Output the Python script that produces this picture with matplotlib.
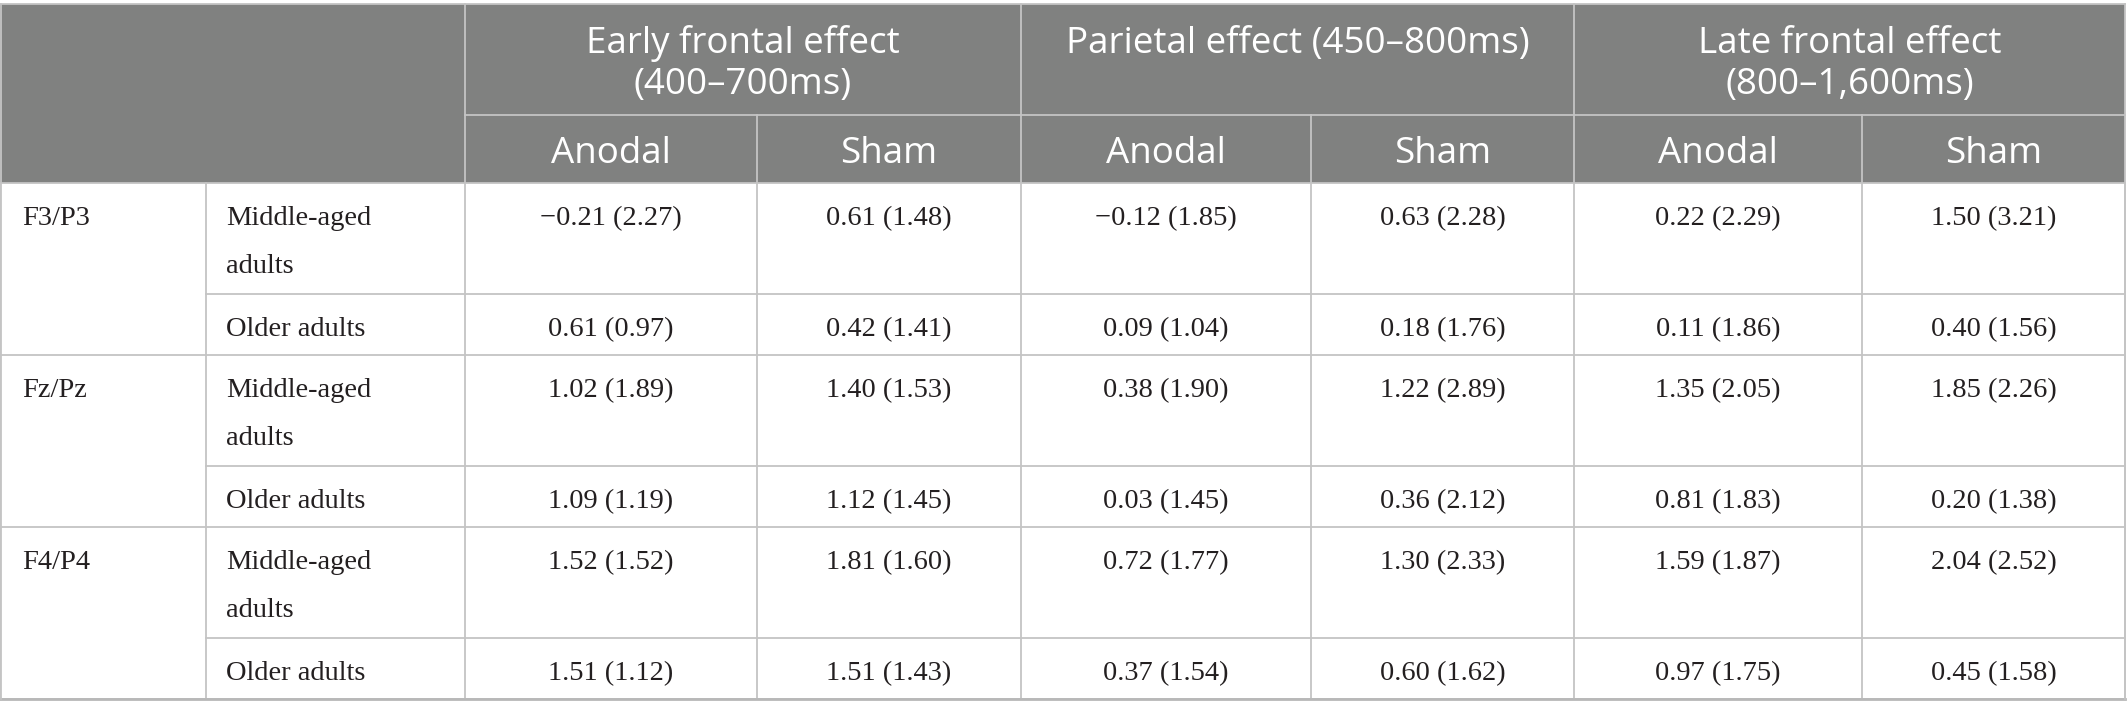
import matplotlib.pyplot as plt
from matplotlib.patches import Rectangle

# ---- table content ----
regions = ["F3/P3", "Fz/Pz", "F4/P4"]
age_groups = ["Middle-aged\nadults", "Older adults"]
effects = ["Early frontal effect\n(400\u2013700ms)",
           "Parietal effect (450\u2013800ms)",
           "Late frontal effect\n(800\u20131,600ms)"]
conditions = ["Anodal", "Sham"]

# mean values, one row per region x age group, columns = effect x condition
means = [
    [-0.21, 0.61, -0.12, 0.63, 0.22, 1.50],
    [0.61, 0.42, 0.09, 0.18, 0.11, 0.40],
    [1.02, 1.40, 0.38, 1.22, 1.35, 1.85],
    [1.09, 1.12, 0.03, 0.36, 0.81, 0.20],
    [1.52, 1.81, 0.72, 1.30, 1.59, 2.04],
    [1.51, 1.51, 0.37, 0.60, 0.97, 0.45],
]
sds = [
    [2.27, 1.48, 1.85, 2.28, 2.29, 3.21],
    [0.97, 1.41, 1.04, 1.76, 1.86, 1.56],
    [1.89, 1.53, 1.90, 2.89, 2.05, 2.26],
    [1.19, 1.45, 1.45, 2.12, 1.83, 1.38],
    [1.52, 1.60, 1.77, 2.33, 1.87, 2.52],
    [1.12, 1.43, 1.54, 1.62, 1.75, 1.58],
]

# ---- layout (pixel coordinates) ----
W, H = 2127, 715
col_x = [0, 206, 465, 757, 1021, 1311, 1574, 1862, 2125]
top, hdr_mid, hdr_bot = 4, 115, 183
row_h = [111, 61]
header_bg = "#808180"
line_c = "#c4c4c4"
txt_c = "#231f20"
serif = "Liberation Serif"
sans = "Open Sans"
hdr_fs = 26.5
body_fs = 20.5

fig = plt.figure(figsize=(W / 100, H / 100), dpi=100)
ax = fig.add_axes([0, 0, 1, 1])
ax.set_xlim(0, W)
ax.set_ylim(H, 0)
ax.axis("off")

# header background
ax.add_patch(Rectangle((0, top), col_x[-1], hdr_bot - top, facecolor=header_bg,
                       edgecolor="none", zorder=0))

lw = 1.3
# header lines
ax.plot([col_x[2], col_x[-1]], [hdr_mid, hdr_mid], color=line_c, lw=lw)
for i in (2, 4, 6):
    ax.plot([col_x[i], col_x[i]], [top, hdr_bot], color=line_c, lw=lw)
for i in (3, 5, 7):
    ax.plot([col_x[i], col_x[i]], [hdr_mid, hdr_bot], color=line_c, lw=lw)

# group header texts
for k, lab in enumerate(effects):
    cx = (col_x[2 + 2 * k] + col_x[4 + 2 * k]) / 2
    for li, t in enumerate(lab.split("\n")):
        ax.text(cx, 53 + li * 41, t, ha="center", va="baseline", color="white",
                fontsize=hdr_fs, family=sans)
    for j, cond in enumerate(conditions):
        c0, c1 = col_x[2 + 2 * k + j], col_x[3 + 2 * k + j]
        ax.text((c0 + c1) / 2, 163, cond, ha="center", va="baseline",
                color="white", fontsize=hdr_fs, family=sans)

# body
y = hdr_bot
r = 0
for reg in regions:
    y_block = y
    ax.text(22, y + 42, reg, ha="left", va="baseline", fontsize=body_fs,
            family=serif, color=txt_c)
    for g, grp in enumerate(age_groups):
        y0, y1 = y, y + row_h[g]
        ty = y0 + 42
        for li, t in enumerate(grp.split("\n")):
            ax.text(226, ty + li * 48, t, ha="left", va="baseline",
                    fontsize=body_fs, family=serif, color=txt_c)
        for c in range(6):
            m, s = means[r][c], sds[r][c]
            txt = f"{m:.2f} ({s:.2f})".replace("-", "\u2212")
            cx = (col_x[2 + c] + col_x[3 + c]) / 2
            ax.text(cx, ty, txt, ha="center", va="baseline", fontsize=body_fs,
                    family=serif, color=txt_c)
        # line under row
        x_start = col_x[1] if g == 0 else col_x[0]
        ax.plot([x_start, col_x[-1]], [y1, y1], color=line_c, lw=lw)
        y = y1
        r += 1
    # vertical lines in body
    for xc in col_x:
        ax.plot([xc, xc], [y_block, y], color=line_c, lw=lw)

# outer border
ax.plot([0, col_x[-1]], [top, top], color=line_c, lw=lw)
ax.plot([0, col_x[-1]], [hdr_bot, hdr_bot], color=line_c, lw=lw)
ax.plot([0, col_x[-1]], [y, y], color="#b8b8b8", lw=2)
ax.plot([0.7, 0.7], [top, y], color=line_c, lw=lw)
ax.plot([col_x[-1], col_x[-1]], [top, y], color=line_c, lw=lw)

fig.savefig("out.png", dpi=100, facecolor="white")
